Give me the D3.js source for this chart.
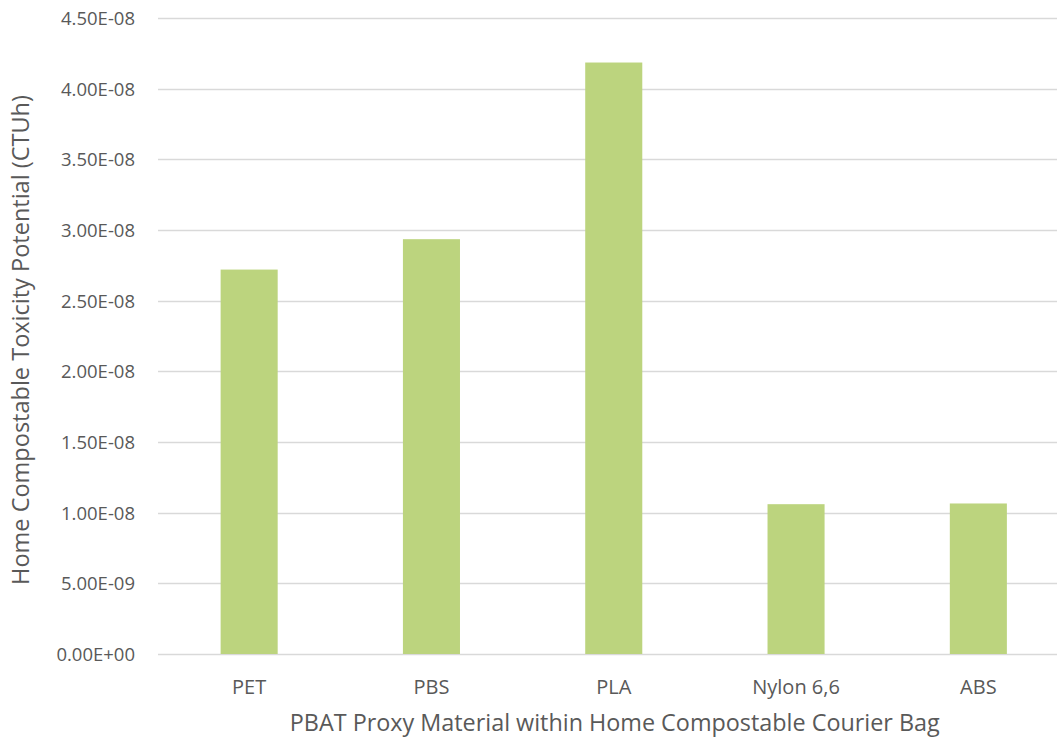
<!DOCTYPE html>
<html>
<head>
<meta charset="utf-8">
<script src="https://cdn.jsdelivr.net/npm/d3@7"></script>
<style>
  html, body { margin: 0; padding: 0; background: #ffffff; }
  svg { display: block; }
  text { font-family: "Open Sans", "Noto Sans", sans-serif; fill: #595959; }
</style>
</head>
<body>
<svg id="chart" width="1057" height="738"></svg>
<script>
// Home compostable toxicity potential per PBAT proxy material
const categories = ["PET", "PBS", "PLA", "Nylon 6,6", "ABS"];
const values = [2.72e-8, 2.935e-8, 4.185e-8, 1.06e-8, 1.065e-8];
const yTicks = [0, 5e-9, 1e-8, 1.5e-8, 2e-8, 2.5e-8, 3e-8, 3.5e-8, 4e-8, 4.5e-8];
const yTickLabels = ["0.00E+00", "5.00E-09", "1.00E-08", "1.50E-08", "2.00E-08",
                     "2.50E-08", "3.00E-08", "3.50E-08", "4.00E-08", "4.50E-08"];
const xTitle = "PBAT Proxy Material within Home Compostable Courier Bag";
const yTitle = "Home Compostable Toxicity Potential (CTUh)";

const svg = d3.select("#chart");
const plot = { left: 158, right: 1069.5, top: 18, bottom: 654 };

const x = d3.scaleBand()
  .domain(categories)
  .range([plot.left, plot.right])
  .paddingInner(0.687)
  .paddingOuter(0.3435);

const y = d3.scaleLinear()
  .domain([0, 4.5e-8])
  .range([plot.bottom, plot.top]);

// horizontal gridlines
svg.append("g")
  .selectAll("line")
  .data(yTicks)
  .join("line")
  .attr("x1", plot.left)
  .attr("x2", 1057)
  .attr("y1", d => Math.round(y(d)) + 0.5)
  .attr("y2", d => Math.round(y(d)) + 0.5)
  .attr("stroke", "#d9d9d9")
  .attr("stroke-width", 1.3);

// bars
svg.append("g")
  .selectAll("rect")
  .data(values)
  .join("rect")
  .attr("x", (d, i) => x(categories[i]))
  .attr("width", x.bandwidth())
  .attr("y", d => y(d))
  .attr("height", d => y(0) - y(d))
  .attr("fill", "#bcd47e");

// y axis built from the scale, drawn without domain line or ticks
const yAxis = d3.axisLeft(y)
  .tickValues(yTicks)
  .tickFormat((d, i) => yTickLabels[i])
  .tickSize(0)
  .tickPadding(0);

const gy = svg.append("g")
  .attr("transform", "translate(135,0)")
  .call(yAxis);
gy.select(".domain").remove();
gy.selectAll("text")
  .attr("dy", "0.35em")
  .style("font-size", "18.5px")
  .style("font-family", "'Open Sans', sans-serif")
  .attr("fill", "#595959");

// x axis category labels
const xAxis = d3.axisBottom(x).tickSize(0).tickPadding(0);
const gx = svg.append("g")
  .attr("transform", `translate(0,${plot.bottom})`)
  .call(xAxis);
gx.select(".domain").remove();
gx.selectAll("text")
  .attr("y", 40)
  .attr("dy", 0)
  .style("font-size", "20px")
  .style("font-family", "'Open Sans', sans-serif")
  .attr("fill", "#595959");

// axis titles, sized to their drawn extent
function fitText(sel, target) {
  const w = sel.node().getComputedTextLength();
  const fs = parseFloat(sel.style("font-size"));
  sel.style("font-size", (fs * target / w).toFixed(2) + "px");
}

const xt = svg.append("text")
  .attr("x", (plot.left + plot.right) / 2 + 1)
  .attr("y", 731)
  .attr("text-anchor", "middle")
  .style("font-size", "20px")
  .text(xTitle);
fitText(xt, 650);

const yt = svg.append("text")
  .attr("transform", `translate(29,${(plot.top + plot.bottom) / 2 + 4}) rotate(-90)`)
  .attr("text-anchor", "middle")
  .style("font-size", "20px")
  .text(yTitle);
fitText(yt, 490);
</script>
</body>
</html>
